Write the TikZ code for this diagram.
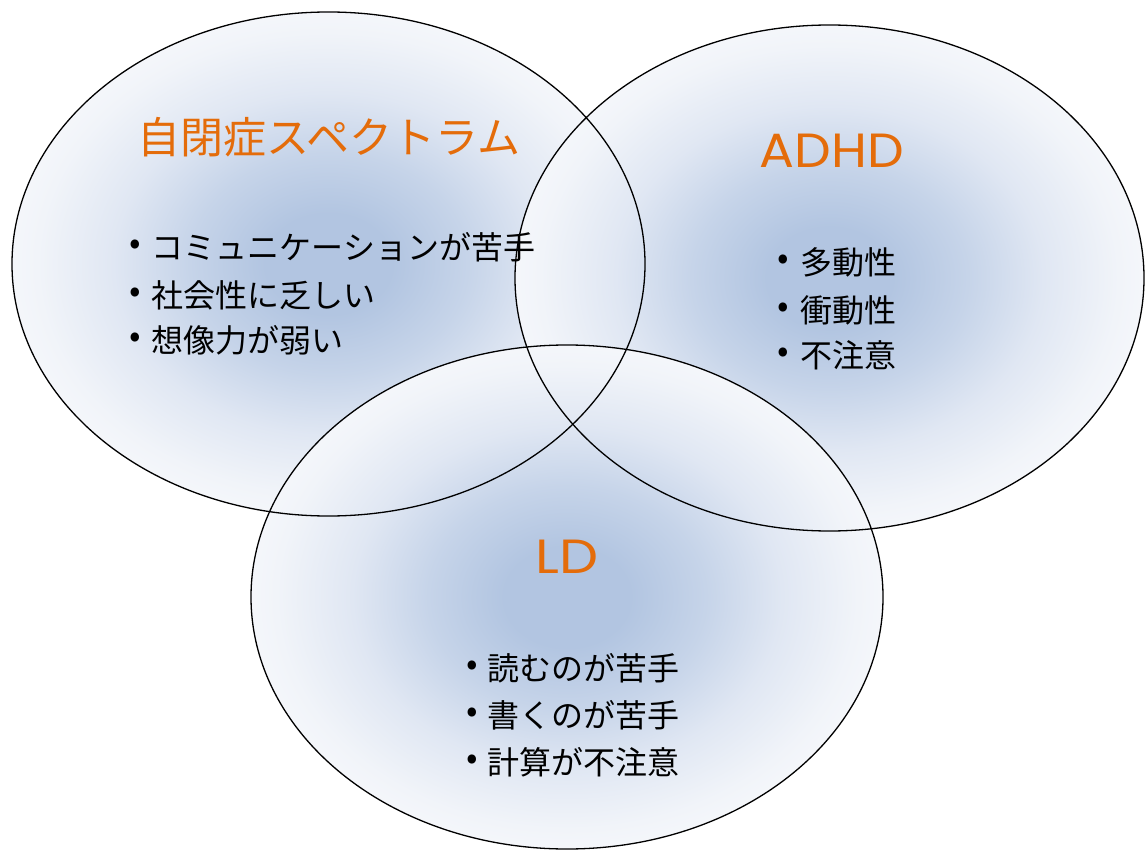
\documentclass[tikz,border=0pt]{standalone}
\usepackage{fontspec}
\newfontfamily\jp{Noto Sans CJK JP}
\newfontfamily\lat{Poppins}
\definecolor{vcA}{RGB}{178,197,225}
\definecolor{vcB}{RGB}{198,212,233}
\definecolor{vcC}{RGB}{224,231,243}
\definecolor{vcD}{RGB}{241,244,249}
\definecolor{vcE}{RGB}{249,250,253}
\definecolor{titleorange}{RGB}{228,108,10}
\pgfdeclareradialshading{vennshade}{\pgfpoint{0bp}{0bp}}{color(0bp)=(vcA); color(5bp)=(vcA); color(11bp)=(vcB); color(17bp)=(vcC); color(23bp)=(vcD); color(28bp)=(vcE); color(72bp)=(vcE)}
\tikzset{
  setfill/.style={shading=vennshade},
  setline/.style={draw=black, line width=1.3pt},
  settitle/.style={text=titleorange, inner sep=0pt},
  item/.style={anchor=west, inner sep=0pt, font=\jp\fontsize{32}{36}\selectfont},
  dot/.style={inner sep=0pt, font=\jp\fontsize{34}{36}\selectfont}
}
\begin{document}
\begin{tikzpicture}[x=1pt,y=-1pt]
\useasboundingbox (0,0) rectangle (1145,850);
\coordinate (asd) at (328.5,264);
\coordinate (adhd) at (829.5,278);
\coordinate (ld) at (567,597);
\shade[setfill] (asd) ellipse (316.5 and 252);
\shade[setfill] (adhd) ellipse (314.5 and 253);
\shade[setfill] (ld) ellipse (316 and 252);
\draw[setline] (asd) ellipse (316.5 and 252);
\draw[setline] (adhd) ellipse (314.5 and 253);
\draw[setline] (ld) ellipse (316 and 252);
% titles
\node[settitle, font=\jp\fontsize{43}{48}\selectfont] (tasd) at (329,137) {自閉症スペクトラム};
\node[settitle, font=\lat\fontsize{48}{52}\selectfont] (tadhd) at (832,151) {\scalebox{1.08}[1]{ADHD}};
\node[settitle, font=\lat\fontsize{48}{52}\selectfont] (tld) at (567,557) {\scalebox{1.15}[1]{LD}};
% ASD items
\node[dot] (da1) at (135,247) {•};
\node[dot] (da2) at (135,295) {•};
\node[dot] (da3) at (135,340) {•};
\node[item] (a1) at (151.5,247) {コミュニケーションが苦手};
\node[item] (a2) at (151.5,295) {社会性に乏しい};
\node[item] (a3) at (151.5,340) {想像力が弱い};
% ADHD items
\node[dot] (dh1) at (783,262) {•};
\node[dot] (dh2) at (783,310) {•};
\node[dot] (dh3) at (783,355) {•};
\node[item] (h1) at (800.5,262) {多動性};
\node[item] (h2) at (800.5,310) {衝動性};
\node[item] (h3) at (800.5,355) {不注意};
% LD items
\node[dot] (dl1) at (472,668) {•};
\node[dot] (dl2) at (472,715) {•};
\node[dot] (dl3) at (472,762) {•};
\node[item] (l1) at (487.5,668) {読むのが苦手};
\node[item] (l2) at (487.5,715) {書くのが苦手};
\node[item] (l3) at (487.5,762) {計算が不注意};
\end{tikzpicture}
\end{document}
